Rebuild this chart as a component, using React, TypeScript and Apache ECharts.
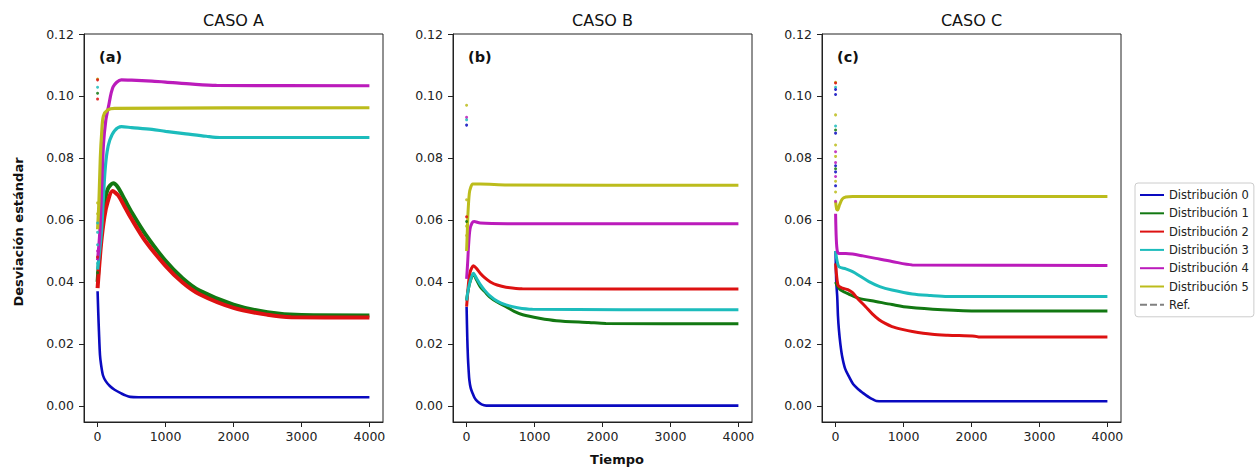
import React, { useEffect, useRef } from "react";
import * as echarts from "echarts";

// ---------- text ----------
const panelTitles = ["CASO A", "CASO B", "CASO C"];
const panelTags = ["(a)", "(b)", "(c)"];
const seriesNames = [
  "Distribución 0",
  "Distribución 1",
  "Distribución 2",
  "Distribución 3",
  "Distribución 4",
  "Distribución 5",
];
const refName = "Ref.";
const xLabel = "Tiempo";
const yLabel = "Desviación estándar";
const xTicks = [0, 1000, 2000, 3000, 4000];
const yTicks = [0, 0.02, 0.04, 0.06, 0.08, 0.1, 0.12];

// ---------- data: [tiempo, desviación] ----------
// CASO A
const casoA_d0 = [[0, 0.037], [10, 0.030], [20, 0.024], [35, 0.0165], [50, 0.0135], [80, 0.0098], [120, 0.0080], [180, 0.0064], [250, 0.0052], [350, 0.0040], [420, 0.0033], [480, 0.0029], [600, 0.0028], [4000, 0.0028]];
const casoA_d1 = [[0, 0.040], [50, 0.055], [100, 0.065], [150, 0.070], [230, 0.0718], [300, 0.0705], [400, 0.0665], [500, 0.0625], [700, 0.0555], [1000, 0.0468], [1250, 0.0412], [1500, 0.0372], [2000, 0.0327], [2500, 0.0302], [3000, 0.0293], [4000, 0.0292]];
const casoA_d2 = [[0, 0.038], [50, 0.052], [100, 0.061], [150, 0.066], [220, 0.0693], [300, 0.068], [400, 0.0642], [500, 0.0603], [700, 0.0533], [1000, 0.0452], [1250, 0.0398], [1500, 0.0360], [2000, 0.0316], [2500, 0.0294], [2850, 0.0286], [4000, 0.0285]];
const casoA_d3 = [[0, 0.044], [30, 0.050], [60, 0.057], [85, 0.067], [110, 0.076], [140, 0.082], [180, 0.0858], [250, 0.0888], [350, 0.0901], [500, 0.0898], [800, 0.0892], [1000, 0.0886], [1300, 0.0878], [1600, 0.0870], [1800, 0.0866], [4000, 0.0866]];
const casoA_d4 = [[0, 0.047], [30, 0.055], [60, 0.070], [85, 0.084], [120, 0.092], [160, 0.0965], [230, 0.1030], [350, 0.1052], [500, 0.1051], [800, 0.1048], [1000, 0.1045], [1400, 0.1038], [1750, 0.1034], [4000, 0.1033]];
const casoA_d5 = [[0, 0.057], [20, 0.066], [40, 0.080], [60, 0.088], [85, 0.0935], [150, 0.0955], [250, 0.0960], [4000, 0.0962]];
// initial scattered points: [tiempo, desviación, distribución]
const casoA_init = [[0, 0.1055, 5], [0, 0.1052, 2], [0, 0.1028, 3], [0, 0.1009, 1], [0, 0.0990, 2], [0, 0.0655, 5], [0, 0.0620, 5], [0, 0.0590, 3], [0, 0.0560, 3], [0, 0.0520, 3], [0, 0.0500, 4], [0, 0.0480, 2], [0, 0.0460, 3], [0, 0.0430, 1]];

// CASO B
const casoB_d0 = [[0, 0.032], [10, 0.022], [20, 0.0155], [30, 0.0115], [40, 0.0085], [60, 0.0058], [88, 0.0041], [120, 0.0025], [162, 0.0014], [220, 0.0005], [290, 0.0001], [4000, 0.0001]];
const casoB_d1 = [[0, 0.034], [20, 0.037], [50, 0.040], [100, 0.0425], [150, 0.0405], [200, 0.0385], [270, 0.0368], [334, 0.0353], [450, 0.0335], [580, 0.0320], [700, 0.0305], [826, 0.0294], [1070, 0.0283], [1320, 0.0275], [1800, 0.0269], [2050, 0.0266], [4000, 0.0265]];
const casoB_d2 = [[0, 0.032], [15, 0.036], [30, 0.040], [50, 0.043], [75, 0.0445], [100, 0.0452], [140, 0.0445], [200, 0.0428], [270, 0.0413], [350, 0.0400], [450, 0.0390], [580, 0.0383], [820, 0.0378], [4000, 0.0377]];
const casoB_d3 = [[0, 0.034], [20, 0.037], [50, 0.040], [100, 0.0428], [150, 0.0410], [200, 0.0392], [270, 0.0372], [340, 0.0356], [450, 0.0338], [580, 0.0326], [750, 0.0317], [970, 0.0312], [4000, 0.0310]];
const casoB_d4 = [[0, 0.041], [15, 0.046], [30, 0.052], [50, 0.057], [80, 0.0590], [110, 0.0595], [200, 0.0590], [600, 0.0588], [4000, 0.0588]];
const casoB_d5 = [[0, 0.050], [10, 0.056], [20, 0.062], [40, 0.0686], [60, 0.0705], [90, 0.0716], [200, 0.0716], [600, 0.0713], [4000, 0.0712]];
const casoB_init = [[0, 0.0970, 5], [0, 0.0931, 4], [0, 0.0923, 3], [0, 0.0906, 0], [0, 0.0665, 5], [0, 0.0610, 2], [0, 0.0595, 1], [0, 0.0580, 5], [0, 0.0550, 5]];

// CASO C
const casoC_d0 = [[0, 0.050], [10, 0.040], [24, 0.0353], [35, 0.029], [49, 0.0245], [70, 0.020], [97, 0.0159], [140, 0.012], [196, 0.0095], [260, 0.0070], [343, 0.0052], [400, 0.0042], [450, 0.0034], [500, 0.0027], [550, 0.0021], [600, 0.0016], [700, 0.0015], [4000, 0.0015]];
const casoC_d1 = [[0, 0.040], [30, 0.0385], [75, 0.0374], [200, 0.0360], [343, 0.0347], [590, 0.0337], [830, 0.0327], [1080, 0.0318], [1570, 0.0310], [2110, 0.0306], [4000, 0.0306]];
const casoC_d2 = [[0, 0.046], [15, 0.042], [40, 0.0388], [100, 0.0380], [180, 0.0375], [245, 0.0366], [330, 0.0345], [442, 0.0320], [540, 0.0297], [640, 0.0278], [730, 0.0266], [830, 0.0256], [980, 0.0247], [1130, 0.0240], [1420, 0.0231], [1650, 0.0228], [2050, 0.0225], [2120, 0.0222], [4000, 0.0222]];
const casoC_d3 = [[0, 0.050], [20, 0.047], [50, 0.0449], [150, 0.0442], [250, 0.0433], [350, 0.0420], [490, 0.0401], [650, 0.0385], [830, 0.0374], [1130, 0.0361], [1400, 0.0356], [1650, 0.0353], [4000, 0.0353]];
const casoC_d4 = [[0, 0.062], [10, 0.054], [25, 0.050], [50, 0.0492], [150, 0.0492], [250, 0.0490], [400, 0.0484], [590, 0.0476], [830, 0.0466], [1130, 0.0455], [4000, 0.0453]];
const casoC_d5 = [[0, 0.066], [15, 0.0635], [30, 0.0632], [60, 0.0650], [100, 0.0668], [150, 0.0674], [250, 0.0676], [4000, 0.0676]];
const casoC_init = [[0, 0.1044, 5], [0, 0.1042, 2], [0, 0.1028, 3], [0, 0.1021, 0], [0, 0.1005, 0], [0, 0.0939, 5], [0, 0.0903, 3], [0, 0.0890, 1], [0, 0.0880, 0], [0, 0.0842, 5], [0, 0.0820, 4], [0, 0.0805, 5], [0, 0.0785, 4], [0, 0.0775, 0], [0, 0.0765, 1], [0, 0.0755, 0], [0, 0.0740, 4], [0, 0.0725, 5], [0, 0.0710, 0], [0, 0.0690, 5], [0, 0.0660, 4]];

const panelData = [
  [casoA_d0, casoA_d1, casoA_d2, casoA_d3, casoA_d4, casoA_d5],
  [casoB_d0, casoB_d1, casoB_d2, casoB_d3, casoB_d4, casoB_d5],
  [casoC_d0, casoC_d1, casoC_d2, casoC_d3, casoC_d4, casoC_d5],
];
const panelInit = [casoA_init, casoB_init, casoC_init];

// ---------- styles / layout ----------
const COLORS = ["#0a0ac0", "#127812", "#dd1111", "#1cbcbc", "#bb1bbb", "#bcbc1c"];
const REF_COLOR = "#808080";
const FONT = "DejaVu Sans";
const GRID_LEFTS = [84, 453, 822];
const GRID_TOP = 34;
const GRID_W = 299;
const GRID_H = 388;
const LINE_WIDTHS = [
  [2.6, 4, 4, 3.2, 3.2, 3.2],
  [2.6, 3, 3, 3, 3, 3],
  [2.6, 3, 3, 3, 3, 3],
];

export default function App() {
  const ref = useRef<HTMLDivElement>(null);

  useEffect(() => {
    if (!ref.current) return;
    const chart = echarts.init(ref.current, null, { renderer: "svg" });

    const grid = GRID_LEFTS.map((left) => ({
      left,
      top: GRID_TOP,
      width: GRID_W,
      height: GRID_H,
      show: true,
      borderColor: "#222",
      borderWidth: 1,
      backgroundColor: "transparent",
    }));

    const xAxis = GRID_LEFTS.map((_, i) => ({
      type: "value",
      gridIndex: i,
      min: -200,
      max: 4200,
      splitLine: { show: false },
      axisLine: { show: true, onZero: false, lineStyle: { color: "#222", width: 1 } },
      axisTick: { show: true, inside: false, length: 5, customValues: xTicks, lineStyle: { color: "#222" } },
      axisLabel: {
        customValues: xTicks,
        fontSize: 12.5,
        fontFamily: FONT,
        color: "#222",
        margin: 8,
        formatter: (v: number) => String(v),
      },
    }));

    const yAxis = GRID_LEFTS.map((_, i) => ({
      type: "value",
      gridIndex: i,
      min: -0.0052,
      max: 0.12,
      splitLine: { show: false },
      axisLine: { show: true, onZero: false, lineStyle: { color: "#222", width: 1 } },
      axisTick: { show: true, inside: false, length: 5, customValues: yTicks, lineStyle: { color: "#222" } },
      axisLabel: {
        customValues: yTicks,
        fontSize: 12.5,
        fontFamily: FONT,
        color: "#222",
        margin: 10,
        formatter: (v: number) => v.toFixed(2),
      },
    }));

    const series: any[] = [];
    panelData.forEach((panel, p) => {
      panel.forEach((data, k) => {
        series.push({
          type: "line",
          name: seriesNames[k],
          xAxisIndex: p,
          yAxisIndex: p,
          data,
          symbol: "none",
          smooth: 0.3,
          color: COLORS[k],
          lineStyle: { color: COLORS[k], width: LINE_WIDTHS[p][k] },
          z: 2 + k,
        });
      });
      series.push({
        type: "scatter",
        name: "init" + p,
        xAxisIndex: p,
        yAxisIndex: p,
        symbol: "circle",
        symbolSize: 3,
        z: 10,
        data: panelInit[p].map((d) => ({
          value: [d[0], d[1]],
          itemStyle: { color: COLORS[d[2]], opacity: 0.85 },
        })),
      });
    });
    series.push({
      type: "line",
      name: refName,
      xAxisIndex: 0,
      yAxisIndex: 0,
      data: [],
      symbol: "none",
      color: REF_COLOR,
      lineStyle: { color: REF_COLOR, type: "dashed", width: 1.5 },
    });

    const legendData = [
      ...seriesNames.map((n) => ({ name: n, icon: "rect" })),
      { name: refName, icon: "path://M0 0H7V2H0Z M10 0H17V2H10Z M20 0H24V2H20Z" },
    ];

    const graphic: any[] = [];
    GRID_LEFTS.forEach((left, i) => {
      graphic.push({
        type: "text",
        x: left + GRID_W / 2,
        y: 20,
        style: {
          text: panelTitles[i],
          font: `16px "${FONT}"`,
          fill: "#111",
          textAlign: "center",
          textVerticalAlign: "middle",
        },
      });
      graphic.push({
        type: "text",
        x: left + 15,
        y: 57,
        z: 20,
        style: {
          text: panelTags[i],
          font: `bold 14.5px "${FONT}"`,
          fill: "#111",
          textAlign: "left",
          textVerticalAlign: "middle",
        },
      });
    });
    graphic.push({
      type: "text",
      x: 18,
      y: 232,
      rotation: Math.PI / 2,
      style: {
        text: yLabel,
        font: `bold 13px "${FONT}"`,
        fill: "#111",
        textAlign: "center",
        textVerticalAlign: "middle",
      },
    });
    graphic.push({
      type: "text",
      x: 617,
      y: 459,
      style: {
        text: xLabel,
        font: `bold 13px "${FONT}"`,
        fill: "#111",
        textAlign: "center",
        textVerticalAlign: "middle",
      },
    });

    chart.setOption({
      animation: false,
      backgroundColor: "#fff",
      grid,
      xAxis,
      yAxis,
      series,
      graphic,
      legend: {
        data: legendData,
        orient: "vertical",
        left: 1135,
        top: 183,
        padding: [5, 5, 5, 5],
        itemWidth: 24,
        itemHeight: 2,
        itemGap: 4.3,
        backgroundColor: "#fff",
        borderColor: "#cccccc",
        borderWidth: 1,
        borderRadius: 3,
        selectedMode: false,
        itemStyle: { borderWidth: 0 },
        textStyle: { fontSize: 11.5, fontFamily: FONT, color: "#222", lineHeight: 14 },
      },
    });

    return () => chart.dispose();
  }, []);

  return (
    <div
      ref={ref}
      style={{ position: "fixed", left: 0, top: 0, width: 1255, height: 468, background: "#fff" }}
    />
  );
}
